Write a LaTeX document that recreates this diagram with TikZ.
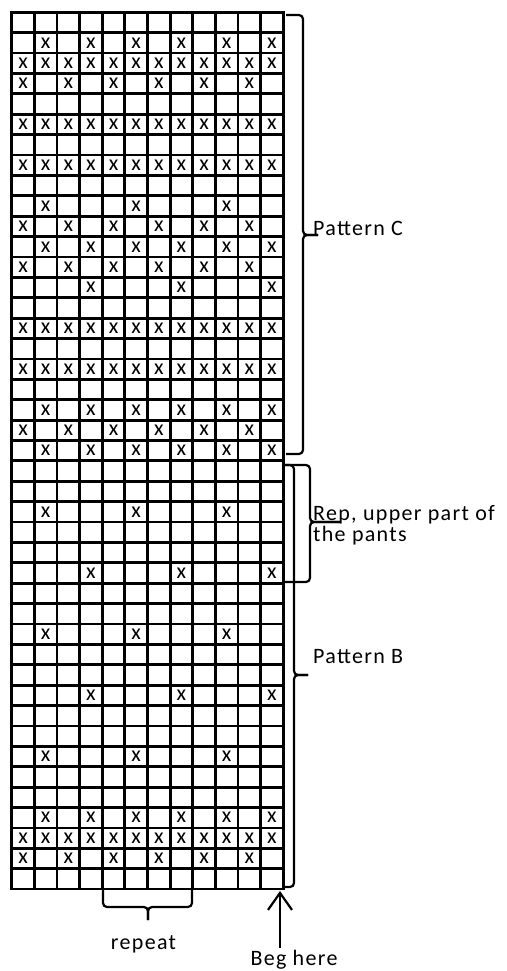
\documentclass[tikz,border=0pt]{standalone}
\usepackage{fontspec}
\setmainfont{Carlito}
\usetikzlibrary{arrows.meta, positioning}

\tikzset{
  chartline/.style={line width=2.8pt, line cap=rect},
  bracket/.style={line width=2.2pt, rounded corners=4pt},
  stitch/.style={inner sep=0pt, font=\fontsize{22}{22}\selectfont},
  notetext/.style={inner sep=0pt, font=\fontsize{22}{19}\selectfont\addfontfeature{LetterSpace=6}}
}

\begin{document}
\begin{tikzpicture}[x=1pt, y=-1pt]
  \useasboundingbox (0,0) rectangle (506,971);

  % chart: 12 stitches x 43 rows
  \begin{scope}[shift={(11.7,12.3)}, x=22.63pt, y=-20.39pt]
    \foreach \i in {0,...,12} \draw[chartline] (\i,0) -- (\i,43);
    \foreach \j in {0,...,43} \draw[chartline] (0,\j) -- (12,\j);

    \foreach \r in {3,6,8,16,18,41}
      \foreach \c in {1,...,12} \node[stitch] (s-\r-\c) at (\c-0.5,\r-0.5) {x};
    \foreach \r in {2,12,20,22,40}
      \foreach \c in {2,4,...,12} \node[stitch] (s-\r-\c) at (\c-0.5,\r-0.5) {x};
    \foreach \r in {4,11,13,21,42}
      \foreach \c in {1,3,...,11} \node[stitch] (s-\r-\c) at (\c-0.5,\r-0.5) {x};
    \foreach \r in {10,25,31,37}
      \foreach \c in {2,6,10} \node[stitch] (s-\r-\c) at (\c-0.5,\r-0.5) {x};
    \foreach \r in {14,28,34}
      \foreach \c in {4,8,12} \node[stitch] (s-\r-\c) at (\c-0.5,\r-0.5) {x};
  \end{scope}

  % pattern C
  \coordinate (tipC) at (318,235);
  \draw[bracket] (286,15) -- (303,15) -- (303,235) -- (tipC);
  \draw[bracket] (286,454) -- (303,454) -- (303,235) -- (tipC);
  \node[notetext, anchor=base west] (patC) at (313,235) {Pattern C};

  % rep part
  \coordinate (tipR) at (340,522);
  \draw[bracket] (284,465) -- (310,465) -- (310,522) -- (tipR);
  \draw[bracket] (284,582) -- (310,582) -- (310,522) -- (tipR);
  \node[notetext, anchor=base west] (repA) at (313,520) {Rep, upper part of};
  \node[notetext, anchor=base west] (repB) at (313,541) {the pants};

  % pattern B
  \coordinate (tipB) at (308,675);
  \draw[bracket] (285,465) -- (294,465) -- (294,675) -- (tipB);
  \draw[bracket] (285,887) -- (294,887) -- (294,675) -- (tipB);
  \node[notetext, anchor=base west] (patB) at (313,663) {Pattern B};

  % repeat
  \coordinate (tipP) at (148,920);
  \draw[bracket] (103,890) -- (103,907) -- (148,907) -- (tipP);
  \draw[bracket] (192,890) -- (192,907) -- (148,907) -- (tipP);
  \node[notetext, anchor=base] (rpt) at (143.5,949) {repeat};

  % start
  \coordinate (begfoot) at (280,948);
  \coordinate (begtip) at (280,891);
  \draw[line width=2.2pt, -{Straight Barb[length=17pt, width=24pt]}] (begfoot) -- (begtip);
  \node[notetext, anchor=base] (beg) at (294,965) {Beg here};
\end{tikzpicture}
\end{document}
